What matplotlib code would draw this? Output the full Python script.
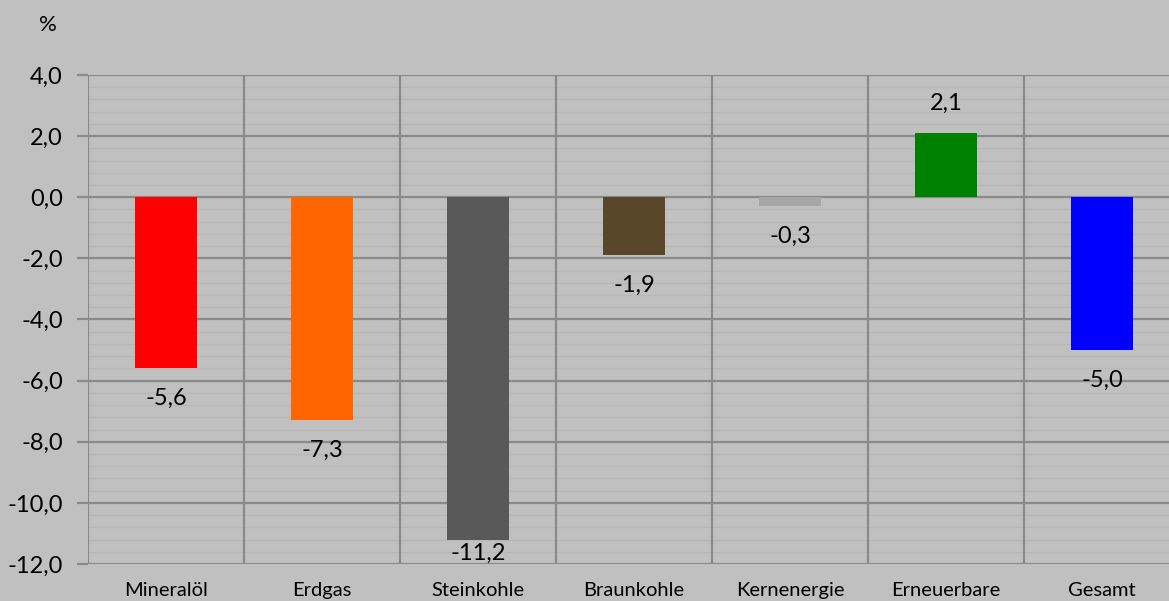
import matplotlib
matplotlib.use("Agg")
import matplotlib.pyplot as plt
import numpy as np

categories = ["Mineralöl", "Erdgas", "Steinkohle", "Braunkohle", "Kernenergie", "Erneuerbare", "Gesamt"]
values = [-5.6, -7.3, -11.2, -1.9, -0.3, 2.1, -5.0]
colors = ["#ff0000", "#ff6600", "#595959", "#5a4628", "#a6a6a6", "#008000", "#0000ff"]
yticks = [4.0, 2.0, 0.0, -2.0, -4.0, -6.0, -8.0, -10.0, -12.0]

plt.rcParams['font.family'] = ['Lato', 'DejaVu Sans']

W, H = 1169, 601
fig = plt.figure(figsize=(W / 100, H / 100), dpi=100)
fig.patch.set_facecolor("#c0c0c0")

left, right, top, bottom = 88, 88 + 7 * 156, 75, 564
ax = fig.add_axes([left / W, (H - bottom) / H, (right - left) / W, (bottom - top) / H])
ax.set_facecolor("#c0c0c0")

x = np.arange(len(categories))
ax.set_xlim(-0.5, len(categories) - 0.5)
ax.set_ylim(-12, 4)

# minor horizontal grid
for yv in np.arange(-12, 4.001, 0.4):
    ax.axhline(yv, color="#b7b7b7", lw=0.9, zorder=0)
# major horizontal grid
for yv in yticks:
    ax.axhline(yv, color="#8a8a8a", lw=1.6, zorder=1)
# vertical category separators
for xv in np.arange(-0.5, len(categories), 1.0):
    ax.axvline(xv, color="#8a8a8a", lw=1.6, zorder=1)

ax.bar(x, values, width=0.40, color=colors, zorder=3)

for s in ax.spines.values():
    s.set_visible(False)

ax.set_yticks(yticks)
ax.set_yticklabels([f"{v:.1f}".replace(".", ",") for v in yticks], fontsize=17)
ax.tick_params(axis="y", length=8, width=1.6, color="#8a8a8a", pad=10)
ax.set_xticks(x)
ax.set_xticklabels(categories, fontsize=14.5)
ax.tick_params(axis="x", length=0, pad=13)

off = 0.98
for xi, v in zip(x, values):
    if v >= 0:
        ly = v + off
    else:
        ly = max(v - off, -11.65)
    ax.text(xi, ly, f"{v:.1f}".replace(".", ","), ha="center", va="center",
            fontsize=17, color="#000000", zorder=4)

fig.text(48 / W, 1 - 25 / H, "%", ha="center", va="center", fontsize=16)

fig.savefig("out.png", dpi=100, facecolor=fig.get_facecolor())
